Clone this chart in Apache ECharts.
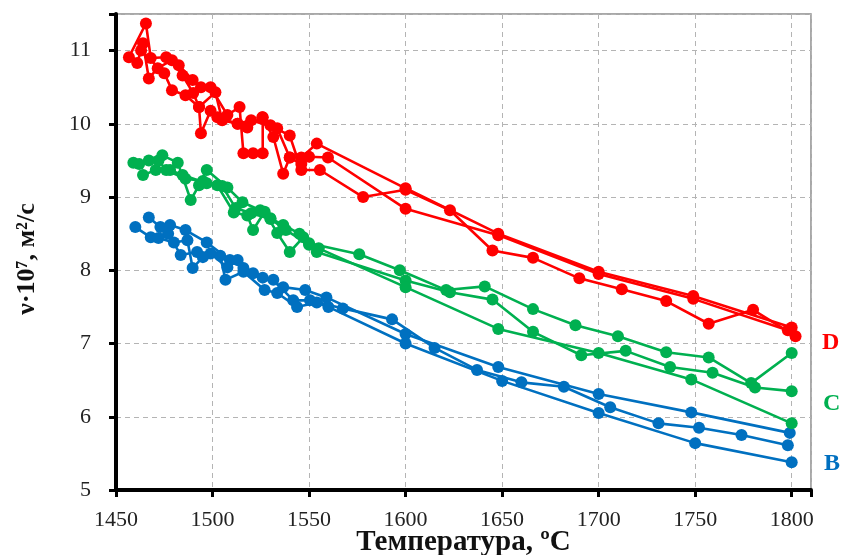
<!DOCTYPE html>
<html>
<head>
<meta charset="utf-8">
<script src="https://cdn.jsdelivr.net/npm/echarts@6/dist/echarts.min.js"></script>
<style>
  html, body { margin: 0; padding: 0; background: #fff; }
  #chart { width: 846px; height: 555px; }
</style>
</head>
<body>
<div id="chart"></div>
<script>
// Kinematic viscosity ν·10^7 (m²/s) versus temperature, three melts (B, C, D),
// each measured in three runs. Pairs are [temperature °C, viscosity].
const runD1 = [[1456.7,10.91],[1465.5,11.37],[1468,10.9],[1476,10.91],[1482.5,10.8],[1489.7,10.6],[1494,10.5],[1499,10.5],[1507.7,10.12],[1514,10.23],[1516,9.6],[1521,9.6],[1526,9.6],[1526,10.09],[1530,9.98],[1540,9.84],[1546,9.37],[1555.6,9.37],[1578,9.0],[1600,9.1],[1623,8.82],[1645,8.27],[1666,8.17],[1690,7.89],[1712,7.74],[1735,7.58],[1757,7.27],[1780,7.46],[1802,7.1]];
const runD2 = [[1461,10.83],[1464,11.1],[1467,10.62],[1471.6,10.76],[1479,10.87],[1484.5,10.66],[1490,10.42],[1493,10.23],[1494,9.87],[1499,10.18],[1502.5,10.09],[1513,10.0],[1518,9.95],[1525.8,10.09],[1531.5,9.82],[1536.6,9.32],[1540,9.54],[1546,9.54],[1554,9.73],[1600,9.12],[1648,8.5],[1700,7.98],[1749,7.65],[1800,7.22]];
const runD3 = [[1463,11.0],[1475,10.69],[1479,10.46],[1486,10.39],[1493,10.23],[1501.5,10.43],[1505,10.05],[1513,10.0],[1520,10.05],[1533.5,9.94],[1540,9.54],[1546,9.45],[1550,9.55],[1559.8,9.54],[1600,8.84],[1648,8.48],[1700,7.95],[1749,7.61],[1798,7.18]];

const runC1 = [[1459,9.47],[1467,9.5],[1474,9.57],[1482,9.47],[1488.7,8.96],[1493,9.16],[1497,9.37],[1507.7,9.13],[1515.5,8.93],[1524.7,8.82],[1530,8.71],[1536.6,8.62],[1545,8.5],[1550,8.37],[1576,8.22],[1597,8.0],[1621,7.73],[1641,7.78],[1666,7.47],[1688,7.25],[1710,7.1],[1735,6.88],[1757,6.81],[1779,6.46],[1800,6.87]];
const runC2 = [[1464,9.3],[1470.6,9.37],[1478,9.37],[1484.5,9.3],[1497,9.19],[1502.5,9.16],[1511,8.79],[1518,8.75],[1521,8.55],[1527,8.8],[1533.5,8.51],[1540,8.25],[1547,8.45],[1554,8.25],[1600,7.86],[1623,7.7],[1645,7.6],[1666,7.16],[1691,6.84],[1714,6.9],[1737,6.68],[1759,6.6],[1781,6.4],[1800,6.35]];
const runC3 = [[1462,9.45],[1472,9.5],[1476,9.37],[1486,9.25],[1495,9.22],[1505,9.15],[1512,8.85],[1520,8.78],[1530,8.7],[1538,8.55],[1550,8.35],[1555,8.3],[1600,7.77],[1648,7.2],[1700,6.87],[1748,6.51],[1800,5.91]];

const runB1 = [[1467,8.72],[1473,8.59],[1478,8.62],[1486,8.55],[1497,8.38],[1509,8.14],[1516,8.03],[1526,7.9],[1536.6,7.77],[1548,7.73],[1559,7.63],[1600,7.13],[1648,6.68],[1700,6.31],[1748,6.06],[1799,5.78]];
const runB2 = [[1460,8.59],[1468,8.45],[1477,8.5],[1483.5,8.21],[1492,8.25],[1499,8.23],[1507.7,8.04],[1513,8.14],[1521,7.96],[1531.5,7.87],[1541.8,7.59],[1550.5,7.59],[1567.5,7.48],[1593,7.33],[1615,6.94],[1637,6.64],[1660,6.47],[1682,6.41],[1706,6.13],[1731,5.91],[1752,5.85],[1774,5.75],[1798,5.61]];
const runB3 = [[1472,8.44],[1480,8.38],[1487,8.41],[1489.7,8.03],[1495,8.18],[1504,8.2],[1506.7,7.87],[1516,7.98],[1527,7.73],[1533.5,7.69],[1543.8,7.5],[1554,7.56],[1560,7.5],[1600,7.0],[1650,6.49],[1700,6.05],[1750,5.64],[1800,5.38]];

const groups = [
  { name: 'B', color: '#0070C0', runs: [runB1, runB2, runB3] },
  { name: 'C', color: '#00B050', runs: [runC1, runC2, runC3] },
  { name: 'D', color: '#FF0000', runs: [runD1, runD2, runD3] }
];

const xTicks = [1450, 1500, 1550, 1600, 1650, 1700, 1750, 1800];
const yTicks = [5, 6, 7, 8, 9, 10, 11];

const serif = '"Liberation Serif", "Times New Roman", "DejaVu Serif", serif';

const series = [];
groups.forEach(g => {
  g.runs.forEach((run, i) => {
    series.push({
      name: g.name + (i + 1),
      type: 'line',
      data: run,
      symbol: 'circle',
      symbolSize: 12,
      showSymbol: true,
      lineStyle: { color: g.color, width: 2.6 },
      itemStyle: { color: g.color },
      z: 3
    });
  });
});

const chart = echarts.init(document.getElementById('chart'), null, { renderer: 'canvas' });
chart.setOption({
  animation: false,
  backgroundColor: '#fff',
  grid: {
    left: 116, right: 35, top: 14, bottom: 65,
    containLabel: false, outerBoundsMode: 'none',
    show: true, borderColor: '#8c8c8c', borderWidth: 1.5
  },
  xAxis: {
    type: 'value',
    min: 1450, max: 1810, interval: 50,
    name: 'Температура, ºC',
    nameLocation: 'middle',
    nameGap: 38,
    nameMoveOverlap: false,
    nameTextStyle: { fontFamily: serif, fontWeight: 'bold', fontSize: 29, color: '#111' },
    axisLine: { show: true, onZero: false, lineStyle: { color: '#000', width: 4 } },
    axisTick: { show: true, length: 7, lineStyle: { color: '#000', width: 3 } },
    axisLabel: {
      fontFamily: serif, fontSize: 22, color: '#222', margin: 19,
      formatter: v => (xTicks.indexOf(v) >= 0 ? String(v) : '')
    },
    splitLine: { show: true, lineStyle: { color: '#b4b4b4', type: [5, 4], width: 1 } }
  },
  yAxis: {
    type: 'value',
    min: 5, max: 11.5, interval: 1,
    name: 'ν·10⁷, м²/с',
    nameLocation: 'middle',
    nameGap: 76,
    nameRotate: 90,
    nameMoveOverlap: false,
    nameTextStyle: { fontFamily: serif, fontWeight: 'bold', fontSize: 26, color: '#111', padding: [0, 14, 0, 0] },
    axisLine: { show: true, onZero: false, lineStyle: { color: '#000', width: 4 } },
    axisTick: { show: true, length: 7, lineStyle: { color: '#000', width: 3 } },
    axisLabel: {
      fontFamily: serif, fontSize: 22, color: '#222', margin: 25,
      formatter: v => (yTicks.indexOf(v) >= 0 ? String(v) : '')
    },
    splitLine: { show: true, lineStyle: { color: '#b4b4b4', type: [5, 4], width: 1 } }
  },
  graphic: [
    { type: 'text', left: 822, top: 331, style: { text: 'D', fill: '#FF0000', font: 'bold 24px ' + serif } },
    { type: 'text', left: 823, top: 392, style: { text: 'C', fill: '#00B050', font: 'bold 24px ' + serif } },
    { type: 'text', left: 824, top: 452, style: { text: 'B', fill: '#0070C0', font: 'bold 24px ' + serif } }
  ],
  series: series
});
</script>
</body>
</html>
